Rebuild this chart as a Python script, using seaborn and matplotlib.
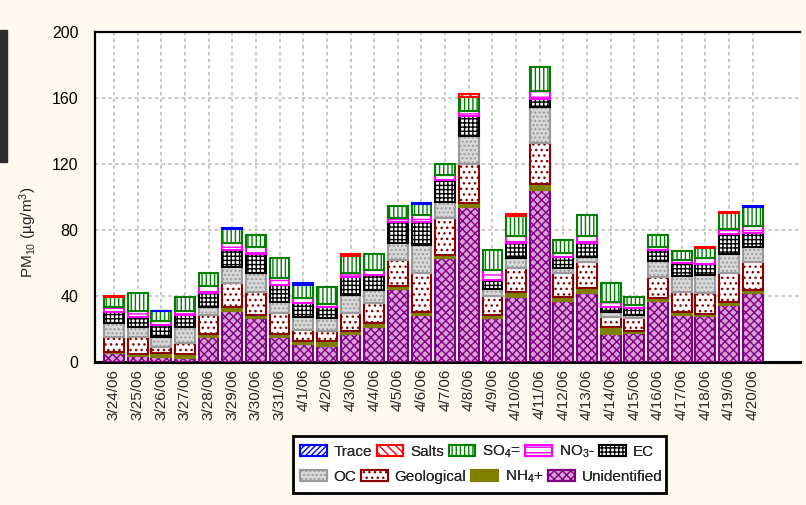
import numpy as np
import pandas as pd
import matplotlib.pyplot as plt
import matplotlib.patches as mpatches
import seaborn as sns

# PM10 chemical composition (ug/m3)
dates = ['3/24/06', '3/25/06', '3/26/06', '3/27/06', '3/28/06', '3/29/06', '3/30/06',
         '3/31/06', '4/1/06', '4/2/06', '4/3/06', '4/4/06', '4/5/06', '4/6/06', '4/7/06',
         '4/8/06', '4/9/06', '4/10/06', '4/11/06', '4/12/06', '4/13/06', '4/14/06',
         '4/15/06', '4/16/06', '4/17/06', '4/18/06', '4/19/06', '4/20/06']

unidentified = [5.3, 3.6, 3.2, 2.2, 15.0, 31.1, 26.5, 15.0, 10.9, 9.7, 17.0, 21.0, 44.1, 28.5,
                63.2, 94.1, 26.8, 39.6, 104.5, 37.2, 41.6, 17.2, 17.4, 37.0, 28.5, 27.9, 34.5, 41.6]
nh4 = [0.9, 1.2, 2.1, 2.6, 2.0, 2.0, 2.0, 2.0, 2.0, 3.2, 2.0, 2.8, 2.0, 2.0,
       1.6, 2.1, 1.7, 2.6, 3.4, 2.4, 3.1, 3.8, 1.6, 1.6, 2.0, 1.2, 2.0, 2.0]
geological = [9.1, 10.5, 3.6, 6.9, 11.5, 15.0, 14.1, 12.9, 6.5, 6.1, 10.9, 12.1, 15.7, 23.6,
              22.3, 23.6, 11.7, 14.9, 24.6, 14.2, 16.1, 6.1, 7.5, 13.1, 12.1, 12.9, 17.6, 17.2]
oc = [8.2, 5.7, 6.1, 9.3, 5.0, 9.3, 11.1, 6.6, 8.1, 7.5, 10.7, 7.7, 10.1, 16.8,
      9.7, 17.4, 4.0, 5.7, 21.9, 3.0, 3.0, 3.2, 2.0, 9.7, 9.5, 10.7, 11.4, 8.7]
ec = [7.0, 6.5, 7.4, 7.5, 8.5, 10.5, 11.8, 10.2, 8.0, 6.6, 11.1, 9.1, 13.1, 14.1,
      13.5, 11.9, 5.5, 9.1, 4.8, 7.0, 8.1, 2.9, 4.0, 6.5, 7.7, 6.7, 12.1, 8.9]
no3 = [2.6, 3.6, 2.6, 2.6, 4.1, 4.1, 4.0, 4.0, 3.1, 2.1, 2.0, 3.1, 2.1, 4.1,
       3.0, 3.0, 6.1, 4.6, 5.2, 2.1, 4.5, 3.3, 2.0, 2.0, 2.0, 3.4, 2.8, 4.0]
so4 = [6.1, 10.5, 5.7, 8.5, 7.6, 8.4, 7.3, 12.3, 7.9, 10.4, 10.5, 9.7, 7.4, 6.7,
       6.5, 8.7, 12.1, 12.2, 14.2, 8.0, 12.7, 11.6, 5.1, 6.9, 5.5, 6.1, 10.1, 11.4]
salts = [0.8, 0, 0, 0, 0, 0, 0, 0, 0, 0, 1.1, 0, 0, 0,
         0, 1.4, 0, 0.8, 0, 0, 0, 0, 0, 0, 0, 1.0, 0.6, 0]
trace = [0, 0, 0.4, 0, 0, 0.8, 0, 0, 1.2, 0, 0, 0, 0, 0.7,
         0, 0, 0, 0, 0, 0, 0, 0, 0, 0, 0, 0, 0, 0.9]

df = pd.DataFrame({'date': dates, 'unidentified': unidentified, 'nh4': nh4,
                   'geological': geological, 'oc': oc, 'ec': ec, 'no3': no3,
                   'so4': so4, 'salts': salts, 'trace': trace})

# stacking order bottom -> top: column, legend label, face, edge, hatch
layers = [
    ('unidentified', 'Unidentified', '#d8a0d8', '#800080', 'xxxx'),
    ('nh4', 'NH$_4$+', '#808000', '#808000', None),
    ('geological', 'Geological', 'white', '#8b0000', '...'),
    ('oc', 'OC', '#d8d8d8', '#9a9a9a', '....'),
    ('ec', 'EC', 'white', 'black', '++++'),
    ('no3', 'NO$_3$-', 'white', '#ff00ff', '---'),
    ('so4', 'SO$_4$=', 'white', '#008000', '||||'),
    ('salts', 'Salts', 'white', '#ff0000', '\\\\\\\\'),
    ('trace', 'Trace', 'white', '#0000ff', '//////'),
]

sns.set_style('white')
plt.rcParams['font.family'] = ['Liberation Sans', 'DejaVu Sans']
plt.rcParams['mathtext.default'] = 'regular'
plt.rcParams['hatch.linewidth'] = 1.0

fig = plt.figure(figsize=(8.06, 5.05), dpi=100)
fig.patch.set_facecolor('#fdf9ef')
ax = fig.add_axes([95 / 806, 1 - 362 / 505, 705 / 806, 330 / 505])
ax.set_facecolor('white')

bottom = np.zeros(len(dates))
for key, label, face, edge, hatch in layers:
    vals = df[key].to_numpy()
    lw = np.where(vals > 0, 1.5, 0.0)
    sns.barplot(data=df, x='date', y=key, order=dates, bottom=bottom, color=face,
                facecolor=face, edgecolor=edge, hatch=hatch, linewidth=lw,
                saturation=1, width=0.84, errorbar=None, ax=ax, zorder=3)
    bottom = bottom + vals

ax.set_xlim(-0.8, 29.0)
ax.set_ylim(0, 200)
ax.set_yticks(range(0, 201, 40))
ax.set_axisbelow(True)
ax.grid(True, axis='both', color='#bdbdbd', linestyle=(0, (2, 2)), linewidth=1.2)

ax.set_xlabel('')
ax.set_ylabel('PM$_{10}$ (µg/m$^{3}$)', fontsize=11)
ax.yaxis.set_label_coords(-0.08, 0.394)
ax.tick_params(axis='y', labelsize=11.5, direction='in', length=4, pad=12, colors='black')
ax.tick_params(axis='x', labelsize=11, direction='in', length=3, pad=5, rotation=90)
for t in ax.get_xticklabels():
    t.set_va('top')

for side in ['left', 'top', 'bottom']:
    ax.spines[side].set_color('black')
    ax.spines[side].set_linewidth(1.6)
ax.spines['bottom'].set_linewidth(2.2)
ax.spines['right'].set_visible(False)

# legend: two flowing rows inside one black frame
handles = {}
for key, label, face, edge, hatch in layers:
    handles[key] = mpatches.Patch(facecolor=face, edgecolor=edge, hatch=hatch,
                                  linewidth=1.5, label=label)
rows = [(['trace', 'salts', 'so4', 'no3', 'ec'], 452),
        (['oc', 'geological', 'nh4', 'unidentified'], 477)]
for keys, yc in rows:
    lg = fig.legend([handles[k] for k in keys], [handles[k].get_label() for k in keys],
                    ncol=len(keys), loc='center left',
                    bbox_to_anchor=(300 / 806, 1 - yc / 505), frameon=False,
                    fontsize=11, handlelength=1.75, handleheight=0.8,
                    columnspacing=0.3, handletextpad=0.45, borderpad=0,
                    borderaxespad=0)
    fig.add_artist(lg)
fig.patches.append(mpatches.Rectangle((293 / 806, 1 - 493 / 505), 373 / 806, 57 / 505,
                                      transform=fig.transFigure, facecolor='white',
                                      edgecolor='black', linewidth=2, zorder=0))

# dark strip on left edge of the original screenshot
fig.patches.append(mpatches.Rectangle((0, 1 - 162 / 505), 7 / 806, 132 / 505,
                                      transform=fig.transFigure, color='#2e2e2e'))

fig.savefig('out.png', dpi=100, facecolor=fig.get_facecolor())
